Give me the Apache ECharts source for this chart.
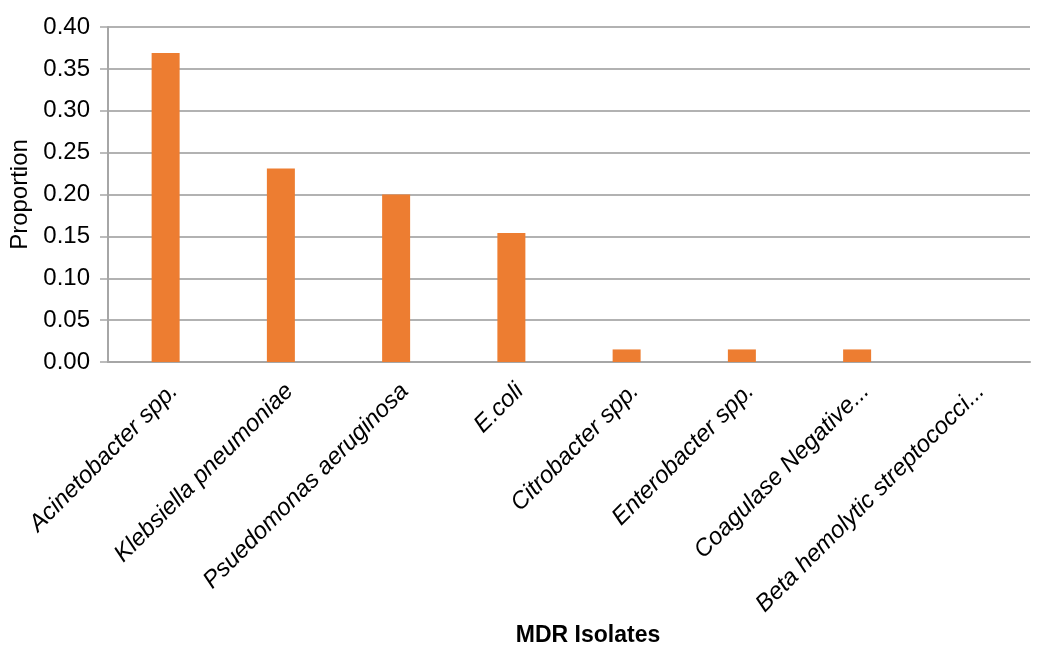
<!DOCTYPE html>
<html>
<head>
<meta charset="utf-8">
<script src="https://cdn.jsdelivr.net/npm/echarts@6/dist/echarts.min.js"></script>
<style>html,body{margin:0;padding:0;background:#fff}#c{width:1044px;height:648px}</style>
</head>
<body>
<div id="c"></div>
<script>
const categories = ["Acinetobacter spp.", "Klebsiella pneumoniae", "Psuedomonas aeruginosa", "E.coli", "Citrobacter spp.", "Enterobacter spp.", "Coagulase Negative...", "Beta hemolytic streptococci..."];
const proportions = [0.369, 0.231, 0.200, 0.154, 0.015, 0.015, 0.015, 0];
const yMin = 0, yMax = 0.40, yStep = 0.05;
const xTitle = "MDR Isolates";
const yTitle = "Proportion";

const chart = echarts.init(document.getElementById('c'), null, {renderer: 'canvas'});
chart.setOption({
  animation: false,
  backgroundColor: '#ffffff',
  textStyle: {fontFamily: 'Liberation Sans'},
  title: {
    text: xTitle, left: 588, top: 624, textAlign: 'center', padding: 0,
    textStyle: {fontSize: 23, fontWeight: 'bold', color: '#000', fontFamily: 'Liberation Sans'}
  },
  grid: {left: 108, right: 14, top: 27, bottom: 286, containLabel: false},
  xAxis: {
    type: 'category', data: categories,
    axisLine: {lineStyle: {color: '#a6a6a6', width: 2}},
    axisTick: {show: false},
    axisLabel: {rotate: 45, interval: 0, fontSize: 24, fontStyle: 'italic', color: '#000', margin: 17, verticalAlign: 'top', fontFamily: 'Liberation Sans'}
  },
  yAxis: {
    type: 'value', min: yMin, max: yMax, interval: yStep,
    name: yTitle, nameLocation: 'middle', nameGap: 76, nameRotate: 90,
    nameTextStyle: {fontSize: 24, color: '#000', fontFamily: 'Liberation Sans'},
    axisLine: {show: true, lineStyle: {color: '#a6a6a6', width: 2}},
    axisTick: {show: true, length: 8, lineStyle: {color: '#a6a6a6', width: 1.5}},
    axisLabel: {formatter: v => v.toFixed(2), fontSize: 24, color: '#000', margin: 18, fontFamily: 'Liberation Sans'},
    splitLine: {lineStyle: {color: '#999999', width: 1.5}}
  },
  series: [{
    type: 'bar', data: proportions, barWidth: 28,
    itemStyle: {color: '#ED7D31'}
  }]
});
</script>
</body>
</html>
